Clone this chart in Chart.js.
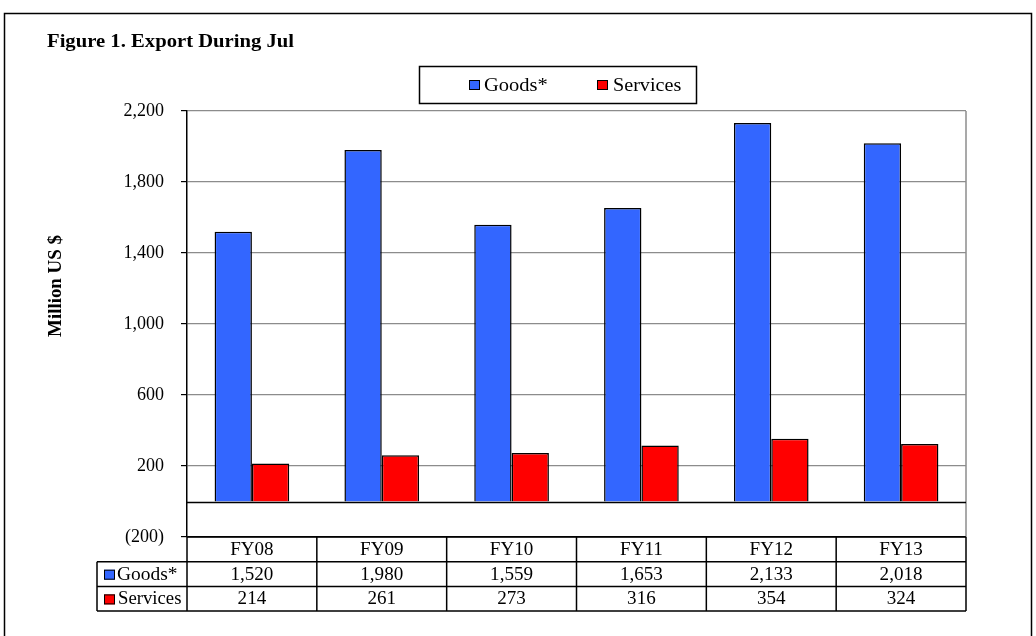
<!DOCTYPE html>
<html><head><meta charset="utf-8">
<script src="https://cdn.jsdelivr.net/npm/chart.js@4/dist/chart.umd.min.js"></script>
<style>html,body{margin:0;padding:0;background:#fff;overflow:hidden;} #wrap{width:1036px;height:636px;position:relative;}</style>
</head><body><div id="wrap"><canvas id="c" width="1036" height="636"></canvas></div>
<script>
const categories = ['FY08','FY09','FY10','FY11','FY12','FY13'];
const goods = [1520,1980,1559,1653,2133,2018];
const services = [214,261,273,316,354,324];
const seriesNames = ['Goods*','Services'];
const yTicks = [-200,200,600,1000,1400,1800,2200];
const titleText = 'Figure 1. Export During Jul';
const yTitle = 'Million US $';

const BLUE = '#3366FF', RED = '#FF0000';
const SERIF = '"Liberation Serif", "Times New Roman", serif';
const fmt = v => v < 0 ? '(' + Math.abs(v).toLocaleString('en-US') + ')' : v.toLocaleString('en-US');

function swatch(ctx, x, y, w, h, color) {
  ctx.fillStyle = color; ctx.fillRect(x, y, w, h);
  ctx.strokeStyle = '#000'; ctx.lineWidth = 1; ctx.strokeRect(x + 0.5, y + 0.5, w - 1, h - 1);
}
function stext(ctx, text, x, y, sx) {
  ctx.save(); ctx.translate(x, y); ctx.scale(sx, 1); ctx.fillText(text, 0, 0); ctx.restore();
}

const decor = {
  id: 'decor',
  beforeDatasetsDraw(chart) {
    const ctx = chart.ctx, a = chart.chartArea;
    ctx.save();
    ctx.strokeStyle = '#8c8c8c'; ctx.lineWidth = 1.5;
    ctx.beginPath(); ctx.moveTo(a.right, a.top); ctx.lineTo(a.right, a.bottom); ctx.stroke();
    ctx.restore();
  },
  afterDatasetsDraw(chart) {
    const ctx = chart.ctx, a = chart.chartArea, y = chart.scales.y;
    ctx.save();
    const y0 = Math.round(y.getPixelForValue(0)) + 0.5;
    ctx.strokeStyle = '#000'; ctx.lineWidth = 1.5;
    ctx.beginPath(); ctx.moveTo(a.left, y0); ctx.lineTo(a.right, y0); ctx.stroke();
    ctx.restore();
  },
  afterDraw(chart) {
    const ctx = chart.ctx, a = chart.chartArea, xs = chart.scales.x;
    ctx.save();
    // outer frame
    ctx.strokeStyle = '#000'; ctx.lineWidth = 1.5;
    ctx.strokeRect(4.5, 13.5, 1027, 640);
    // title
    ctx.fillStyle = '#000';
    ctx.font = 'bold 19.5px ' + SERIF;
    ctx.textAlign = 'left'; ctx.textBaseline = 'alphabetic';
    stext(ctx, titleText, 47, 47, 1.06);
    // y title
    ctx.save();
    ctx.translate(61, 286); ctx.rotate(-Math.PI / 2);
    ctx.font = 'bold 18px ' + SERIF; ctx.textAlign = 'center'; ctx.textBaseline = 'alphabetic';
    ctx.scale(1.05, 1);
    ctx.fillText(yTitle, 0, 0);
    ctx.restore();
    // legend box
    ctx.strokeStyle = '#000'; ctx.lineWidth = 1.5;
    ctx.strokeRect(419.5, 66.5, 277, 37);
    ctx.font = '18px ' + SERIF; ctx.textBaseline = 'alphabetic'; ctx.textAlign = 'left';
    swatch(ctx, 469, 80, 11, 10, BLUE);
    ctx.fillStyle = '#000'; stext(ctx, seriesNames[0], 484, 91, 1.14);
    swatch(ctx, 597, 80, 11, 10, RED);
    ctx.fillStyle = '#000'; stext(ctx, seriesNames[1], 613, 91, 1.12);
    // data table
    const n = categories.length;
    const colW = (a.right - a.left) / n;
    const top = a.bottom, rh = 24.7;
    const r1 = top + rh, r2 = top + 2 * rh, r3 = top + 3 * rh;
    const leftX = 97;
    ctx.strokeStyle = '#000'; ctx.lineWidth = 1.5;
    ctx.beginPath();
    ctx.moveTo(a.left, top); ctx.lineTo(a.right, top);
    ctx.moveTo(leftX, r1); ctx.lineTo(a.right, r1);
    ctx.moveTo(leftX, r2); ctx.lineTo(a.right, r2);
    ctx.moveTo(leftX, r3); ctx.lineTo(a.right, r3);
    ctx.moveTo(leftX, r1); ctx.lineTo(leftX, r3);
    for (let i = 0; i <= n; i++) {
      const x = a.left + i * colW;
      ctx.moveTo(x, top); ctx.lineTo(x, r3);
    }
    ctx.stroke();
    ctx.font = '18px ' + SERIF; ctx.fillStyle = '#000';
    ctx.textAlign = 'center'; ctx.textBaseline = 'middle';
    for (let i = 0; i < n; i++) {
      const cx = xs.getPixelForValue(i);
      stext(ctx, categories[i], cx, top + rh / 2 + 1, 1.06);
      stext(ctx, fmt(goods[i]), cx, r1 + rh / 2 + 1, 1.06);
      stext(ctx, fmt(services[i]), cx, r2 + rh / 2 + 1, 1.06);
    }
    ctx.textAlign = 'left';
    swatch(ctx, 104, r1 + 8, 11, 10, BLUE);
    ctx.fillStyle = '#000'; stext(ctx, seriesNames[0], 117, r1 + rh / 2 + 1, 1.08);
    swatch(ctx, 104, r2 + 8, 11, 10, RED);
    ctx.fillStyle = '#000'; stext(ctx, seriesNames[1], 118, r2 + rh / 2 + 1, 1.04);
    ctx.restore();
  }
};

new Chart(document.getElementById('c'), {
  type: 'bar',
  data: {
    labels: categories,
    datasets: [
      { label: seriesNames[0], data: goods, backgroundColor: BLUE, borderColor: '#000', borderWidth: 1.5 },
      { label: seriesNames[1], data: services, backgroundColor: RED, borderColor: '#000', borderWidth: 1.5 }
    ]
  },
  options: {
    responsive: false,
    animation: false,
    devicePixelRatio: 1,
    layout: { padding: { left: 47, top: 111, right: 70, bottom: 99 } },
    datasets: { bar: { categoryPercentage: 0.575, barPercentage: 1 } },
    plugins: { legend: { display: false }, tooltip: { enabled: false }, title: { display: false } },
    scales: {
      x: { display: false, grid: { display: false } },
      y: {
        min: -200, max: 2200,
        afterBuildTicks: s => { s.ticks = yTicks.map(v => ({ value: v })); },
        afterFit: s => { s.width = 140; },
        border: { display: true, color: '#000', width: 1.5 },
        grid: {
          color: c => (c.tick && c.tick.value === -200) ? '#000' : '#8c8c8c',
          lineWidth: 1.2,
          tickColor: '#000', tickLength: 6, drawTicks: true
        },
        ticks: {
          padding: 17, color: '#000',
          font: { family: SERIF, size: 18 },
          callback: v => fmt(v)
        }
      }
    }
  },
  plugins: [decor]
});
</script>
</body></html>
